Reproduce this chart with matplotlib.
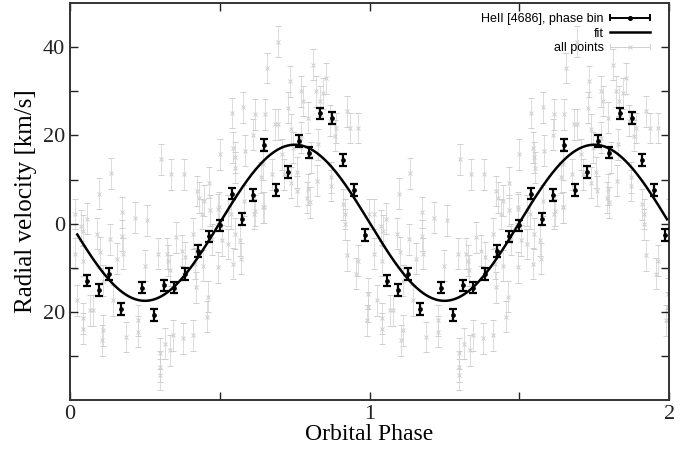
import numpy as np
import matplotlib
matplotlib.use('Agg')
import matplotlib.pyplot as plt
from matplotlib.lines import Line2D
from matplotlib.legend_handler import HandlerBase

# phase-binned HeII 4686 velocities (one orbit, plotted twice)
bin_phase = [0.058, 0.096, 0.129, 0.169, 0.240, 0.279, 0.313, 0.346, 0.384,
             0.426, 0.464, 0.500, 0.539, 0.574, 0.611, 0.649, 0.687, 0.727,
             0.763, 0.799, 0.835, 0.875, 0.910, 0.949, 0.986]
bin_vel = [-12.9, -15.0, -11.4, -19.4, -14.5, -20.7, -14.0, -14.5, -11.4,
           -6.2, -2.9, -0.4, 6.8, 1.1, 6.5, 17.8, 7.6, 11.7,
           18.7, 16.1, 25.0, 24.0, 14.4, 7.6, -2.6]
bin_err = 1.3

# individual measurements (one orbit, plotted twice)
all_phase = [0.016, 0.038, 0.055, 0.097, 0.091, 0.136, 0.133, 0.174, 0.174, 0.216,
             0.257, 0.303, 0.338, 0.382, 0.423, 0.440, 0.464, 0.500, 0.540, 0.545,
             0.551, 0.016, 0.043, 0.043, 0.043, 0.077, 0.110, 0.105, 0.144, 0.155,
             0.188, 0.227, 0.227, 0.249, 0.294, 0.300, 0.300, 0.316, 0.327, 0.323,
             0.334, 0.345, 0.378, 0.373, 0.384, 0.412, 0.417, 0.445, 0.456, 0.462,
             0.473, 0.506, 0.495, 0.111, 0.178, 0.100, 0.044, 0.067, 0.578, 0.617,
             0.650, 0.611, 0.583, 0.550, 0.494, 0.355, 0.411, 0.527, 0.550, 0.639,
             0.644, 0.333, 0.422, 0.544, 0.572, 0.527, 0.694, 0.811, 0.856, 0.733,
             0.772, 0.822, 0.845, 0.728, 0.778, 0.834, 0.923, 0.694, 0.739, 0.795,
             0.889, 0.935, 0.962, 0.772, 0.828, 0.884, 0.706, 0.806, 0.867, 0.745,
             0.756, 0.795, 0.800, 0.872, 0.872, 0.911, 0.917, 0.917, 0.923, 0.962,
             0.956, 0.995, 0.995, 0.657, 0.684, 0.645, 0.998, 0.990, 0.024, 0.568,
             0.447, 0.467, 0.430, 0.497, 0.536, 0.614, 0.580, 0.647, 0.675, 0.714,
             0.759, 0.792, 0.825, 0.739, 0.618, 0.300]
all_vel = [2.2, -0.5, 1.1, 6.8, -2.3, 11.4, -3.5, 2.6, -2.7, 1.3,
           0.8, 14.6, 11.2, 11.2, 7.4, 2.2, 9.3, 15.7, 25.1, 17.2,
           12.7, -6.8, -8.4, -21.5, -23.8, -19.6, -24.2, -26.4, -17.4, -8.0,
           -25.7, -21.9, -24.5, -9.5, -6.8, -29.4, -32.4, -27.2, -8.4, -6.8,
           -28.7, -25.3, -26.0, -6.1, -7.6, -25.3, -9.1, -9.5, -21.1, -16.6,
           -3.5, -3.8, -9.9, -12.9, -6.8, -6.5, -1.6, -19.6, 26.4, 24.8,
           24.8, 20.2, 16.5, 15.0, 3.3, -3.1, -2.3, 2.9, -2.3, 10.5,
           3.7, -10.6, -14.4, -9.1, -8.0, -4.6, 41.3, 36.0, 33.0, 32.3,
           30.0, 30.0, 29.6, 26.3, 27.8, 27.8, 25.5, 22.5, 21.4, 24.0,
           21.7, 21.7, 21.7, 19.5, 18.0, 19.9, 15.7, 15.0, 23.3, 17.2,
           11.6, 7.8, 4.8, 10.5, 8.6, 4.4, 2.2, -0.1, -7.2, -8.4,
           -11.4, -15.9, -18.9, 35.3, 22.5, 13.5, 2.2, -21.9, -17.4, -3.8,
           5.2, 3.0, 5.9, 3.7, 2.2, 2.2, 5.2, 3.7, 11.2, 11.2,
           7.4, 5.9, 9.7, 9.3, 2.9, -34.3]
all_err = 3.5

# sine fit: v = gamma - K sin(2 pi (phase - phi0))
fit_K = 17.7
fit_gamma = 0.2
fit_phi0 = 0.0
fit_range = (0.024, 1.993)

plt.rcParams['font.family'] = ['Liberation Serif', 'DejaVu Serif']

fig = plt.figure(figsize=(6.87, 4.49), dpi=100)
ax = fig.add_axes([0.102, 0.109, 0.872, 0.884])

gray = '#cfcfcf'
for shift in (0, 1):
    ax.errorbar(np.array(all_phase) + shift, all_vel, yerr=all_err, fmt='x',
                color=gray, ms=3.5, mew=0.7, elinewidth=0.5, capsize=2.5,
                capthick=0.5, zorder=1)

for shift in (0, 1):
    ax.errorbar(np.array(bin_phase) + shift, bin_vel, yerr=bin_err, fmt='o',
                color='black', ms=2.4, elinewidth=1.6, capsize=2.8,
                capthick=1.6, zorder=3)

ph = np.linspace(fit_range[0], fit_range[1], 400)
ax.plot(ph, fit_gamma - fit_K * np.sin(2 * np.pi * (ph - fit_phi0)),
        color='black', lw=1.8, zorder=2)

ax.set_xlim(0, 2)
ax.set_ylim(-40, 50)
ax.set_xticks([0, 0.5, 1, 1.5, 2])
ax.set_xticklabels(['0', '', '1', '', '2'])
ax.set_yticks([-30, -20, -10, 0, 10, 20, 30, 40])
ax.set_yticklabels(['', '20', '', '0', '', '20', '', '40'])
ax.tick_params(direction='in', top=True, right=True, length=6, width=1,
               labelsize=16, colors='#222222')
for s in ax.spines.values():
    s.set_linewidth(1.4)
    s.set_color('#333333')

ax.set_xlabel('Orbital Phase', fontsize=17, labelpad=0)
ax.set_ylabel('Radial velocity [km/s]', fontsize=18, labelpad=4)


class ErrKey(HandlerBase):
    def __init__(self, color, marker, lw, ms):
        super().__init__()
        self.color, self.marker, self.lw, self.ms = color, marker, lw, ms

    def create_artists(self, legend, orig_handle, xdescent, ydescent,
                       width, height, fontsize, trans):
        x0, x1 = -xdescent, -xdescent + width
        yc = -ydescent + height / 2
        h = height * 0.3
        arts = [Line2D([x0, x1], [yc, yc], color=self.color, lw=self.lw),
                Line2D([x0, x0], [yc - h, yc + h], color=self.color, lw=self.lw),
                Line2D([x1, x1], [yc - h, yc + h], color=self.color, lw=self.lw),
                Line2D([(x0 + x1) / 2], [yc], color=self.color, marker=self.marker,
                       ms=self.ms, mew=self.lw, ls='none')]
        for a in arts:
            a.set_transform(trans)
        return arts


h_bin = Line2D([], [])
h_fit = Line2D([], [], color='black', lw=1.8)
h_all = Line2D([], [], color=gray)
ax.legend([h_bin, h_fit, h_all], ['HeII [4686], phase bin', 'fit', 'all points'],
          handler_map={h_bin: ErrKey('black', 'o', 1.4, 2.2),
                       h_all: ErrKey(gray, 'x', 0.7, 3.5)},
          loc='upper right', bbox_to_anchor=(0.985, 1.0), frameon=False,
          markerfirst=False, handlelength=3.2, handletextpad=0.5,
          labelspacing=0.2, borderpad=0.3,
          prop={'family': 'Liberation Sans', 'size': 9})

fig.savefig('out.png', dpi=100)
